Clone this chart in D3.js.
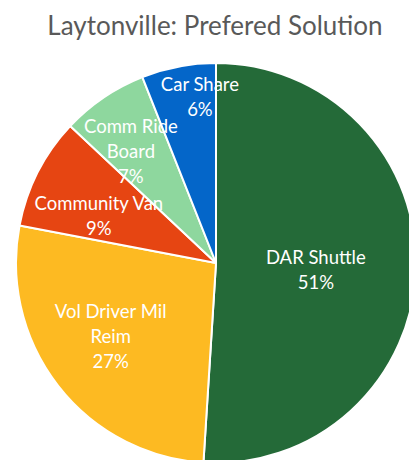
<!DOCTYPE html>
<html>
<head>
<meta charset="utf-8">
<script src="https://cdn.jsdelivr.net/npm/d3@7"></script>
<style>
  html, body { margin: 0; padding: 0; background: #fff; overflow: hidden; }
  svg { display: block; }
</style>
</head>
<body>
<svg id="chart" width="409" height="460"></svg>
<script>
// Survey results: preferred transportation solution in Laytonville
const categories = ["DAR Shuttle", "Vol Driver Mil Reim", "Community Van", "Comm Ride Board", "Car Share"];
const shares = [51, 27, 9, 7, 6];
const colors = ["#246A38", "#FDBA22", "#E64512", "#8ED79E", "#0466C9"];
// Label text broken into lines as shown in each slice
const labelLines = [
  ["DAR Shuttle"],
  ["Vol Driver Mil", "Reim"],
  ["Community Van"],
  ["Comm Ride", "Board"],
  ["Car Share"]
];
const title = "Laytonville: Prefered Solution";

// Layout
const width = 409, height = 460;
const cx = 216, cy = 263, radius = 200;
// Label placement per slice: distance from centre (fraction of radius)
// and a small angular nudge (degrees) away from the slice's mid-angle
const labelRadiusFrac = [0.50, 0.64, 0.633, 0.707, 0.839];
const labelAngleNudge = [1.6, 3.2, -4.7, -2.8, 5.3];
const labelFont = "Lato, 'Open Sans', sans-serif";
const labelSize = 18.5;
const lineGap = 25;

const svg = d3.select("#chart");

svg.append("text")
  .attr("x", 215)
  .attr("y", 35)
  .attr("text-anchor", "middle")
  .attr("fill", "#595959")
  .attr("font-family", labelFont)
  .attr("font-size", 26)
  .text(title);

const data = categories.map((c, i) => ({ name: c, value: shares[i], color: colors[i], lines: labelLines[i], idx: i }));

const pie = d3.pie().value(d => d.value).sort(null);
const arcs = pie(data);

const arc = d3.arc().innerRadius(0).outerRadius(radius);

const g = svg.append("g").attr("transform", `translate(${cx},${cy})`);

g.selectAll("path.slice")
  .data(arcs)
  .join("path")
  .attr("class", "slice")
  .attr("d", arc)
  .attr("fill", d => d.data.color)
  .attr("stroke", "#ffffff")
  .attr("stroke-width", 2)
  .attr("stroke-linejoin", "round");

const labels = g.selectAll("g.label")
  .data(arcs)
  .join("g")
  .attr("class", "label")
  .attr("transform", d => {
    const i = d.data.idx;
    const r = radius * labelRadiusFrac[i];
    const a = (d.startAngle + d.endAngle) / 2 + labelAngleNudge[i] * Math.PI / 180;
    return `translate(${r * Math.sin(a)},${-r * Math.cos(a)})`;
  });

labels.each(function(d) {
  const lines = d.data.lines.concat([d.data.value + "%"]);
  const n = lines.length;
  const t = d3.select(this).append("text")
    .attr("text-anchor", "middle")
    .attr("fill", "#ffffff")
    .attr("font-family", labelFont)
    .attr("font-size", labelSize);
  lines.forEach((ln, i) => {
    t.append("tspan")
      .attr("x", 0)
      .attr("y", (i - (n - 1) / 2) * lineGap + labelSize * 0.42)
      .text(ln);
  });
});
</script>
</body>
</html>
